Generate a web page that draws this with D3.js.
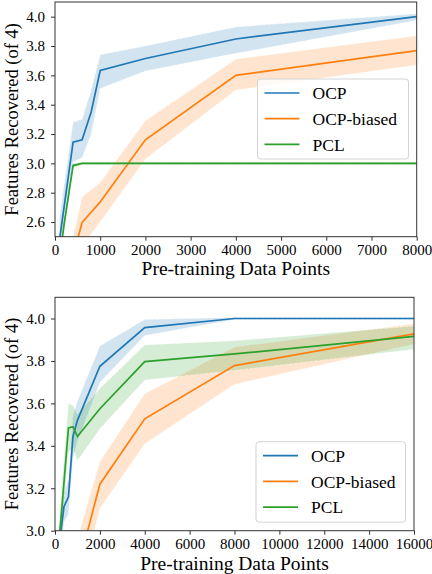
<!DOCTYPE html>
<html>
<head>
<meta charset="utf-8">
<script src="https://cdn.jsdelivr.net/npm/d3@7"></script>
<style>
  body { margin: 0; background: #fff; }
  svg { display: block; }
</style>
</head>
<body>
<svg id="chart" width="432" height="574"></svg>
<script>
// Features recovered vs. pre-training data points, two panels

const SERIES = ['OCP', 'OCP-biased', 'PCL'];
const COLORS = ['#1f77b4', '#ff7f0e', '#2ca02c'];
const FONT = "'Liberation Serif', 'DejaVu Serif', serif";

// top panel
const topX = [100, 200, 400, 600, 800, 1000, 2000, 4000, 8000];
const topOCP = [2.48, 2.70, 3.145, 3.16, 3.35, 3.633, 3.715, 3.848, 4.0];
const topOCPLo = [2.35, 2.55, 3.01, 3.04, 3.20, 3.51, 3.63, 3.75, 3.975];
const topOCPHi = [2.62, 2.85, 3.28, 3.30, 3.50, 3.74, 3.80, 3.93, 4.02];
const topBiased = [2.10, 2.20, 2.37, 2.597, 2.667, 2.737, 3.161, 3.600, 3.769];
const topBiasedLo = [1.90, 2.00, 2.20, 2.43, 2.52, 2.60, 3.03, 3.50, 3.67];
const topBiasedHi = [2.30, 2.40, 2.50, 2.77, 2.82, 2.87, 3.29, 3.71, 3.87];
const topPCL = [2.35, 2.58, 2.985, 3.0, 3.0, 3.0, 3.0, 3.0, 3.0];
const topPCLLo = [2.30, 2.53, 2.97, 2.99, 2.99, 2.99, 2.99, 2.99, 2.99];
const topPCLHi = [2.40, 2.63, 3.0, 3.01, 3.01, 3.01, 3.01, 3.01, 3.01];
const topXTicks = [0, 1000, 2000, 3000, 4000, 5000, 6000, 7000, 8000];
const topYTicks = [2.6, 2.8, 3.0, 3.2, 3.4, 3.6, 3.8, 4.0];

// bottom panel
const botX = [100, 200, 400, 600, 800, 1000, 2000, 4000, 8000, 16000];
const botOCP = [2.85, 2.94, 3.113, 3.16, 3.444, 3.52, 3.775, 3.957, 4.0, 4.0];
const botOCPLo = [2.75, 2.85, 3.04, 3.08, 3.34, 3.42, 3.70, 3.92, 3.995, 3.995];
const botOCPHi = [2.95, 3.04, 3.18, 3.24, 3.54, 3.61, 3.87, 3.995, 4.005, 4.005];
const botBiased = [2.45, 2.50, 2.60, 2.68, 2.75, 2.816, 3.219, 3.527, 3.778, 3.928];
const botBiasedLo = [2.30, 2.35, 2.45, 2.52, 2.60, 2.68, 3.105, 3.41, 3.69, 3.88];
const botBiasedHi = [2.60, 2.65, 2.75, 2.82, 2.90, 2.96, 3.325, 3.645, 3.865, 3.975];
const botPCL = [2.85, 2.97, 3.227, 3.484, 3.49, 3.444, 3.575, 3.797, 3.833, 3.916];
const botPCLLo = [2.75, 2.88, 3.12, 3.37, 3.39, 3.33, 3.48, 3.71, 3.755, 3.855];
const botPCLHi = [2.95, 3.06, 3.34, 3.60, 3.59, 3.55, 3.67, 3.875, 3.895, 3.965];
const botXTicks = [0, 2000, 4000, 6000, 8000, 10000, 12000, 14000, 16000];
const botYTicks = [3.0, 3.2, 3.4, 3.6, 3.8, 4.0];

const X_LABEL = 'Pre-training Data Points';
const Y_LABEL = 'Features Recovered (of 4)';

const svg = d3.select('#chart').style('font-family', FONT);

function drawPanel(cfg) {
  const w = cfg.right - cfg.left;
  const h = cfg.bottom - cfg.top;
  const g = svg.append('g').attr('transform', `translate(${cfg.left},${cfg.top})`);

  const x = d3.scaleLinear().domain(cfg.xDomain).range([0, w]);
  const y = d3.scaleLinear().domain(cfg.yDomain).range([h, 0]);

  g.append('clipPath').attr('id', cfg.id + '-clip')
    .append('rect').attr('width', w).attr('height', h);

  const plot = g.append('g').attr('clip-path', `url(#${cfg.id}-clip)`);

  const area = d3.area()
    .x(d => x(d.x))
    .y0(d => y(d.lo))
    .y1(d => y(d.hi));
  const line = d3.line()
    .x(d => x(d.x))
    .y(d => y(d.v));

  // bands first, then lines
  cfg.series.forEach((s, i) => {
    const pts = cfg.xs.map((xv, j) => ({ x: xv, lo: s.lo[j], hi: s.hi[j] }));
    plot.append('path')
      .attr('d', area(pts))
      .attr('fill', COLORS[i])
      .attr('fill-opacity', 0.2)
      .attr('stroke', '#fff')
      .attr('stroke-opacity', 0.7)
      .attr('stroke-width', 0.6)
      .attr('stroke-dasharray', '3,2');
  });
  cfg.series.forEach((s, i) => {
    const pts = cfg.xs.map((xv, j) => ({ x: xv, v: s.v[j] }));
    plot.append('path')
      .attr('d', line(pts))
      .attr('fill', 'none')
      .attr('stroke', COLORS[i])
      .attr('stroke-width', 1.7);
  });

  // axes
  const xAxis = d3.axisBottom(x).tickValues(cfg.xTicks).tickFormat(d3.format('d'))
    .tickSize(4).tickPadding(4);
  const yAxis = d3.axisLeft(y).tickValues(cfg.yTicks).tickFormat(d3.format('.1f'))
    .tickSize(4).tickPadding(6);

  const xg = g.append('g').attr('transform', `translate(0,${h})`).call(xAxis);
  const yg = g.append('g').call(yAxis);
  [xg, yg].forEach(a => {
    a.attr('font-family', null).attr('font-size', 15);
    a.select('.domain').remove();
    a.selectAll('.tick line').attr('stroke', '#333').attr('stroke-width', 1);
    a.selectAll('.tick text').attr('fill', '#000');
  });

  // frame
  g.append('rect')
    .attr('width', w).attr('height', h)
    .attr('fill', 'none').attr('stroke', '#333').attr('stroke-width', 1);

  // axis titles
  g.append('text')
    .attr('x', w / 2)
    .attr('y', cfg.xTitleY - cfg.top)
    .attr('text-anchor', 'middle')
    .attr('font-size', 19.5)
    .text(X_LABEL);

  g.append('text')
    .attr('transform', `translate(${18 - cfg.left},${h / 2}) rotate(-90)`)
    .attr('text-anchor', 'middle')
    .attr('font-size', 18.5)
    .text(Y_LABEL);

  // legend
  const lg = g.append('g').attr('transform', `translate(${cfg.legend.x - cfg.left},${cfg.legend.y - cfg.top})`);
  lg.append('rect')
    .attr('width', cfg.legend.w).attr('height', cfg.legend.h)
    .attr('rx', 3).attr('ry', 3)
    .attr('fill', '#fff').attr('fill-opacity', 0.8)
    .attr('stroke', '#d4d4d4').attr('stroke-width', 1);
  SERIES.forEach((name, i) => {
    const yy = 14 + i * 25.7;
    lg.append('line')
      .attr('x1', 7).attr('x2', 42)
      .attr('y1', yy).attr('y2', yy)
      .attr('stroke', COLORS[i]).attr('stroke-width', 1.7);
    lg.append('text')
      .attr('x', 55).attr('y', yy)
      .attr('dy', '0.35em')
      .attr('font-size', 17.5)
      .text(name);
  });
}

drawPanel({
  id: 'top',
  left: 55, right: 416.7, top: 2, bottom: 236.7,
  xDomain: [0, 8000], yDomain: [2.5, 4.1],
  xs: topX,
  series: [
    { v: topOCP, lo: topOCPLo, hi: topOCPHi },
    { v: topBiased, lo: topBiasedLo, hi: topBiasedHi },
    { v: topPCL, lo: topPCLLo, hi: topPCLHi }
  ],
  xTicks: topXTicks, yTicks: topYTicks,
  xTitleY: 275,
  legend: { x: 257.5, y: 79, w: 151, h: 80 }
});

drawPanel({
  id: 'bot',
  left: 55, right: 414, top: 297.3, bottom: 530.7,
  xDomain: [0, 16000], yDomain: [3.0, 4.1],
  xs: botX,
  series: [
    { v: botOCP, lo: botOCPLo, hi: botOCPHi },
    { v: botBiased, lo: botBiasedLo, hi: botBiasedHi },
    { v: botPCL, lo: botPCLLo, hi: botPCLHi }
  ],
  xTicks: botXTicks, yTicks: botYTicks,
  xTitleY: 570,
  legend: { x: 256, y: 441.7, w: 149.5, h: 80.5 }
});
</script>
</body>
</html>
